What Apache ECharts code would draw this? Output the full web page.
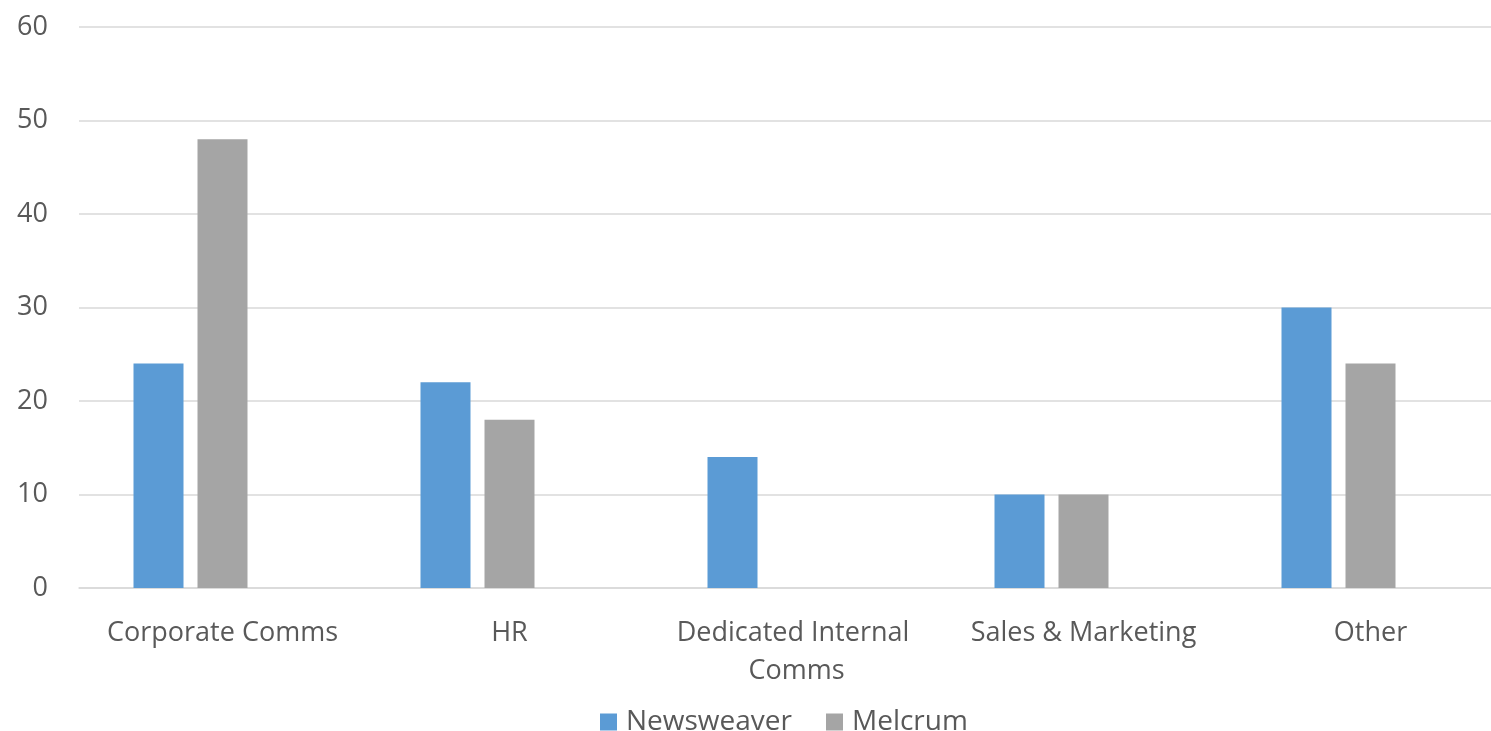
<!DOCTYPE html>
<html>
<head>
<meta charset="utf-8">
<script src="https://cdn.jsdelivr.net/npm/echarts@6/dist/echarts.min.js"></script>
<style>html,body{margin:0;padding:0;background:#fff}#c{width:1491px;height:731px}</style>
</head>
<body>
<div id="c"></div>
<script>
var categories = ['Corporate Comms', 'HR', 'Dedicated Internal Comms', 'Sales & Marketing', 'Other'];
var newsweaver = [24, 22, 14, 10, 30];
var melcrum = [48, 18, 0, 10, 24];
var yTicks = [0, 10, 20, 30, 40, 50, 60];

var chart = echarts.init(document.getElementById('c'), null, {renderer: 'canvas'});
var font = '"Open Sans", sans-serif';
chart.setOption({
  animation: false,
  backgroundColor: '#ffffff',
  grid: {left: 79, right: -23, top: 27, bottom: 143, containLabel: false, outerBoundsMode: 'none'},
  legend: {
    data: ['Newsweaver', 'Melcrum'],
    left: 595, top: 703,
    icon: 'rect', itemWidth: 17, itemHeight: 17, itemGap: 34,
    textStyle: {color: '#595959', fontSize: 28, fontFamily: font, padding: [0, 0, 0, 4]}
  },
  xAxis: {
    type: 'category',
    data: categories,
    axisLine: {lineStyle: {color: '#d9d9d9', width: 1.5}},
    axisTick: {show: false},
    axisLabel: {color: '#595959', fontSize: 27, fontFamily: font, margin: 26, width: 255, overflow: 'break', lineHeight: 38, interval: 0}
  },
  yAxis: {
    type: 'value', min: yTicks[0], max: yTicks[yTicks.length - 1], interval: 10,
    axisLine: {show: false}, axisTick: {show: false},
    splitLine: {lineStyle: {color: '#d9d9d9', width: 1.5}},
    axisLabel: {color: '#595959', fontSize: 27, fontFamily: font, margin: 31}
  },
  series: [
    {name: 'Newsweaver', type: 'bar', data: newsweaver, barWidth: 50, barGap: '28%', itemStyle: {color: '#5b9bd5'}},
    {name: 'Melcrum', type: 'bar', data: melcrum, barWidth: 50, barGap: '28%', itemStyle: {color: '#a5a5a5'}},
    {name: 'blank', type: 'bar', data: [], barWidth: 50, barGap: '28%', itemStyle: {color: 'transparent'}}
  ]
});
</script>
</body>
</html>
